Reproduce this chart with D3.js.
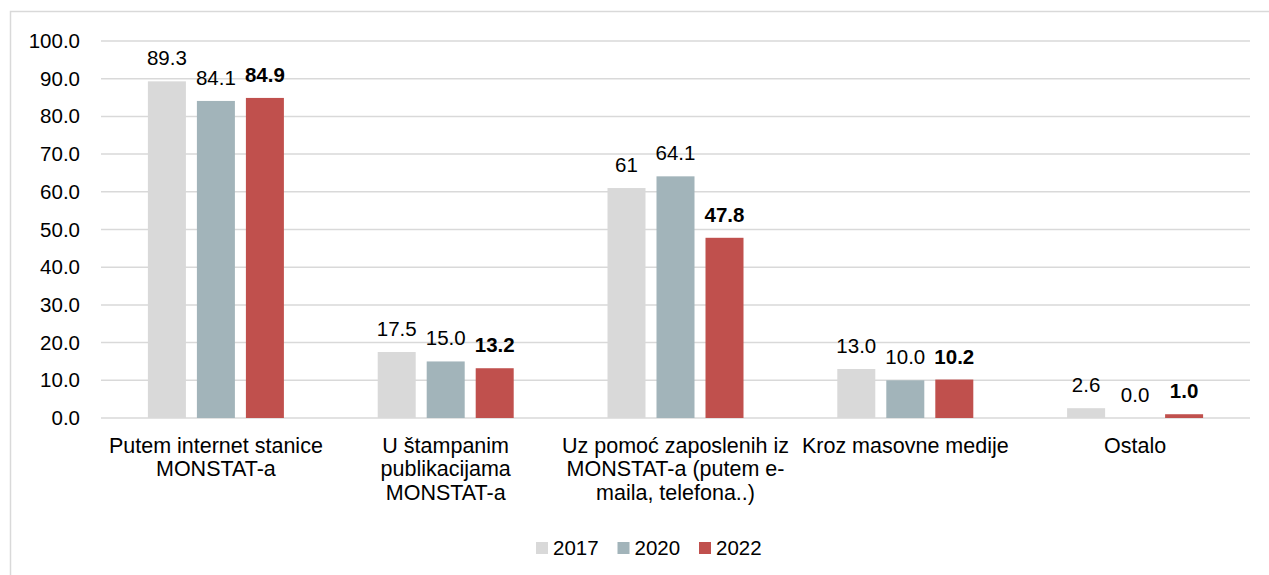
<!DOCTYPE html>
<html>
<head>
<meta charset="utf-8">
<script src="https://cdn.jsdelivr.net/npm/d3@7"></script>
<style>
  body { margin: 0; background: #fff; }
  svg { display: block; font-family: "Liberation Sans", Arial, sans-serif; }
</style>
</head>
<body>
<svg id="chart" width="1269" height="575"></svg>
<script>
// categories (each one split into the lines shown under the axis)
const categories = [
  ["Putem internet stanice", "MONSTAT-a"],
  ["U štampanim", "publikacijama", "MONSTAT-a"],
  ["Uz pomoć zaposlenih iz", "MONSTAT-a (putem e-", "maila, telefona..)"],
  ["Kroz masovne medije"],
  ["Ostalo"]
];
const years = ["2017", "2020", "2022"];
const values2017 = [89.3, 17.5, 61, 13.0, 2.6];
const values2020 = [84.1, 15.0, 64.1, 10.0, 0.0];
const values2022 = [84.9, 13.2, 47.8, 10.2, 1.0];
const labels2017 = ["89.3", "17.5", "61", "13.0", "2.6"];
const labels2020 = ["84.1", "15.0", "64.1", "10.0", "0.0"];
const labels2022 = ["84.9", "13.2", "47.8", "10.2", "1.0"];
const yTicks = [0, 10, 20, 30, 40, 50, 60, 70, 80, 90, 100];

const colors = { "2017": "#d9d9d9", "2020": "#a2b4ba", "2022": "#c0504d" };

const series = [
  { year: "2017", values: values2017, labels: labels2017, bold: false },
  { year: "2020", values: values2020, labels: labels2020, bold: false },
  { year: "2022", values: values2022, labels: labels2022, bold: true }
];

const svg = d3.select("#chart");
const plot = { left: 101, right: 1250, top: 41, bottom: 418 };

// outer frame (right and bottom run off the picture)
svg.append("rect")
  .attr("x", 10.5).attr("y", 11.5)
  .attr("width", 1300).attr("height", 700)
  .attr("fill", "none")
  .attr("stroke", "#d9d9d9")
  .attr("stroke-width", 1.5);

const x0 = d3.scaleBand()
  .domain(d3.range(categories.length))
  .range([plot.left, plot.right])
  .padding(0);

const groupW = 136;
const x1 = d3.scaleBand()
  .domain(years)
  .range([(x0.bandwidth() - groupW) / 2, (x0.bandwidth() + groupW) / 2])
  .paddingInner(11 / 49)
  .paddingOuter(0);

const y = d3.scaleLinear()
  .domain([0, 100])
  .range([plot.bottom, plot.top]);

// gridlines
svg.append("g")
  .selectAll("line")
  .data(yTicks)
  .join("line")
  .attr("x1", plot.left).attr("x2", plot.right)
  .attr("y1", d => y(d)).attr("y2", d => y(d))
  .attr("stroke", "#d9d9d9")
  .attr("stroke-width", 1.5);

// y axis labels
const yAxis = svg.append("g")
  .attr("transform", `translate(${plot.left}, 0)`)
  .call(d3.axisLeft(y).tickValues(yTicks).tickFormat(d3.format(".1f")).tickSize(0).tickPadding(21));
yAxis.select(".domain").remove();
yAxis.selectAll("text")
  .attr("font-size", 20.5)
  .attr("fill", "#000")
  .attr("font-family", "Liberation Sans, Arial, sans-serif");

// bars
const groups = svg.append("g")
  .selectAll("g")
  .data(series)
  .join("g")
  .attr("fill", d => colors[d.year]);

groups.selectAll("rect")
  .data(s => s.values.map((v, i) => ({ i, v, year: s.year })))
  .join("rect")
  .attr("x", d => x0(d.i) + x1(d.year))
  .attr("y", d => y(d.v))
  .attr("width", x1.bandwidth())
  .attr("height", d => y(0) - y(d.v));

// value labels
groups.selectAll("text")
  .data(s => s.values.map((v, i) => ({ i, v, year: s.year, label: s.labels[i], bold: s.bold })))
  .join("text")
  .attr("x", d => x0(d.i) + x1(d.year) + x1.bandwidth() / 2)
  .attr("y", d => y(d.v) - 16)
  .attr("text-anchor", "middle")
  .attr("font-size", 20.5)
  .attr("font-weight", d => d.bold ? "bold" : "normal")
  .attr("fill", "#000")
  .text(d => d.label);

// category labels
svg.append("g")
  .selectAll("text")
  .data(categories)
  .join("text")
  .attr("x", (d, i) => x0(i) + x0.bandwidth() / 2)
  .attr("y", 453)
  .attr("text-anchor", "middle")
  .attr("font-size", 21.5)
  .attr("fill", "#000")
  .selectAll("tspan")
  .data(d => d)
  .join("tspan")
  .attr("x", function () { return this.parentNode.getAttribute("x"); })
  .attr("dy", (d, j) => j === 0 ? 0 : 23.3)
  .text(d => d);

// legend
const legend = svg.append("g")
  .selectAll("g")
  .data(years)
  .join("g")
  .attr("transform", (d, i) => `translate(${536 + i * 81.5}, 542)`);

legend.append("rect")
  .attr("width", 12).attr("height", 12)
  .attr("fill", d => colors[d]);

legend.append("text")
  .attr("x", 17).attr("y", 13)
  .attr("font-size", 20.5)
  .attr("fill", "#000")
  .text(d => d);
</script>
</body>
</html>
